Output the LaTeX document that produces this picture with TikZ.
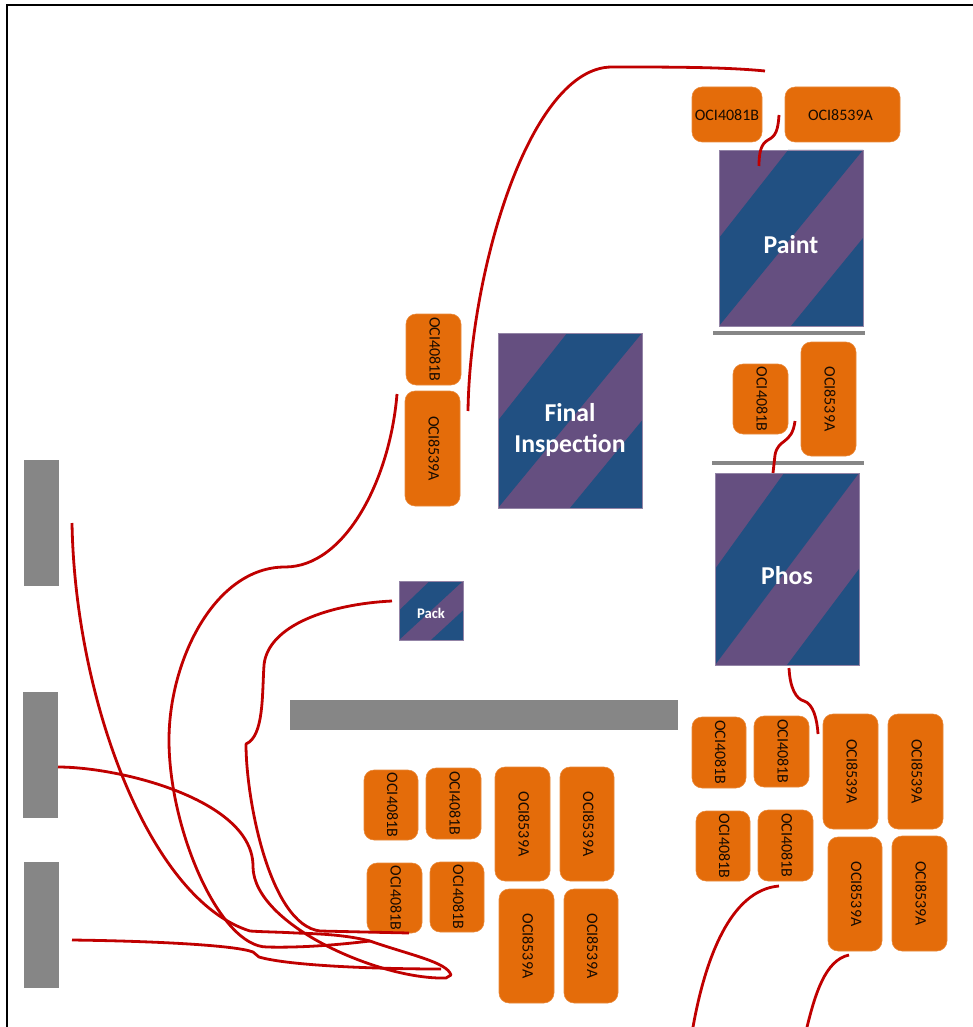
\documentclass[tikz,border=0pt]{standalone}
\usepackage{fontspec}
\setmainfont{Carlito}
\usetikzlibrary{calc}
\definecolor{bandpurple}{HTML}{654F80}
\definecolor{bandblue}{HTML}{215082}
\definecolor{chiporange}{HTML}{E46C0A}
\definecolor{bargray}{HTML}{868686}
\definecolor{inkred}{HTML}{C00000}
\tikzset{
  chip/.style={fill=chiporange,draw=chiporange!80!white,line width=0.4pt,rounded corners=7.5pt,inner sep=0pt,outer sep=0pt,text=black!90!chiporange,font=\fontsize{12}{14}\selectfont},
  bar/.style={fill=bargray,draw=none,inner sep=0pt,outer sep=0pt},
  ink/.style={draw=inkred,line width=2.1pt,line cap=butt,line join=round},
  procbox/.style={fill=bandpurple,draw=bandpurple!70!white,line width=0.5pt,inner sep=0pt,outer sep=0pt,text=white,align=center,
    path picture={
      \coordinate (pNW) at (path picture bounding box.north west);
      \coordinate (pNE) at (path picture bounding box.north east);
      \coordinate (pSW) at (path picture bounding box.south west);
      \coordinate (pSE) at (path picture bounding box.south east);
      \fill[bandblue] ($(pNW)!0.48!(pNE)$) -- (pNE) -- (pSW) -- ($(pNW)!0.5!(pSW)$) -- cycle;
      \fill[bandblue] ($(pNE)!0.5!(pSE)$) -- (pSE) -- ($(pSW)!0.5!(pSE)$) -- cycle;
    }},
}
% name, x0, y0, x1, y1 (px), text
\newcommand{\hchip}[6]{\node[chip,minimum width=#4*0.75pt-#2*0.75pt,minimum height=#5*0.75pt-#3*0.75pt] (#1) at ({(#2+#4)/2},{(#3+#5)/2}) {\raisebox{-0.7pt}[\height][\depth]{#6}};}
\newcommand{\vchip}[6]{\node[chip,rotate=-90,minimum width=#5*0.75pt-#3*0.75pt,minimum height=#4*0.75pt-#2*0.75pt] (#1) at ({(#2+#4)/2},{(#3+#5)/2}) {\raisebox{1.2pt}[\height][\depth]{#6}};}
\newcommand{\graybar}[5]{\node[bar,minimum width=#4*0.75pt-#2*0.75pt,minimum height=#5*0.75pt-#3*0.75pt] (#1) at ({(#2+#4)/2},{(#3+#5)/2}) {};}
% name, x0, y0, x1, y1, font size, text lift, text
\newcommand{\proc}[8]{\node[procbox,font=\bfseries\fontsize{#6}{23.3}\selectfont,minimum width=#4*0.75pt-#2*0.75pt,minimum height=#5*0.75pt-#3*0.75pt] (#1) at ({(#2+#4)/2},{(#3+#5)/2}) {\raisebox{#7}[\height][\depth]{\begin{tabular}{@{}c@{}}#8\end{tabular}}};}
\begin{document}
\begin{tikzpicture}[x=0.75pt,y=-0.75pt]
\useasboundingbox (0,0) rectangle (973,1027);
\fill[white] (0,0) rectangle (973,1027);
\coordinate (frameA) at (973,5);
\coordinate (frameB) at (7,5);
\coordinate (frameC) at (7,1027);
\draw[black,line width=0.9pt] (frameA) -- (frameB) -- (frameC);

% process boxes
\proc{paint}{719}{150}{863}{326}{19.3}{-7pt}{Paint}
\proc{final}{498}{333}{642}{508}{19.3}{-8pt}{Final\\Inspection}
\proc{phos}{715}{473}{859}{665}{19.3}{-6.7pt}{Phos}
\proc{pack}{399}{581}{463}{640}{11}{-1.5pt}{Pack}

% gray bars
\graybar{barA}{24}{460}{59}{586}
\graybar{barB}{23}{692}{58}{818}
\graybar{barC}{24}{862}{59}{988}
\graybar{barWide}{290}{700}{678}{730}
\graybar{barPaint}{713}{331}{865}{335}
\graybar{barPhos}{712}{461}{864}{465}

% chips
\hchip{t1}{692}{87}{762}{142}{OCI4081B}
\hchip{t2}{785}{87}{900}{142}{\kern-3ptOCI8539A}
\vchip{m1}{733}{364}{788}{434}{OCI4081B}
\vchip{m2}{801}{342}{856}{456}{OCI8539A}
\vchip{l1}{406}{314}{461}{385}{OCI4081B}
\vchip{l2}{405}{391}{460}{506}{OCI8539A}
\vchip{a1}{692}{717}{746}{788}{OCI4081B}
\vchip{a2}{754}{716}{809}{787}{OCI4081B}
\vchip{a3}{823}{714}{878}{829}{OCI8539A}
\vchip{a4}{888}{714}{943}{829}{OCI8539A}
\vchip{b1}{696}{811}{750}{881}{OCI4081B}
\vchip{b2}{758}{810}{813}{881}{OCI4081B}
\vchip{b3}{828}{837}{882}{951}{OCI8539A}
\vchip{b4}{892}{836}{947}{951}{OCI8539A}
\vchip{c1}{364}{770}{418}{840}{OCI4081B}
\vchip{c2}{426}{768}{481}{839}{OCI4081B}
\vchip{c3}{495}{767}{550}{881}{OCI8539A}
\vchip{c4}{560}{767}{614}{881}{OCI8539A}
\vchip{d1}{367}{863}{422}{933}{OCI4081B}
\vchip{d2}{430}{862}{484}{932}{OCI4081B}
\vchip{d3}{499}{889}{554}{1003}{OCI8539A}
\vchip{d4}{564}{889}{618}{1003}{OCI8539A}

% free ends of the hand-drawn strokes
\coordinate (s1a) at (468,411);
\coordinate (s1b) at (612,67);
\coordinate (s1c) at (765,71);
\coordinate (s2a) at (779,115);
\coordinate (s2b) at (768,140);
\coordinate (s2c) at (759,166);
\coordinate (s3a) at (795,421);
\coordinate (s3b) at (775,455);
\coordinate (s3c) at (773,473);
\coordinate (s4a) at (789,668);
\coordinate (s4b) at (804,701);
\coordinate (s4c) at (818,734);
\coordinate (s5a) at (397,394);
\coordinate (s5b) at (285,567);
\coordinate (s5c) at (169,740);
\coordinate (s5d) at (267,947);
\coordinate (s5e) at (370,941);
\coordinate (s6a) at (392,601);
\coordinate (s6b) at (264,665);
\coordinate (s6c) at (246,744);
\coordinate (s6d) at (320,931);
\coordinate (s6e) at (409,933);
\coordinate (s7a) at (72,523);
\coordinate (s7b) at (250,931);
\coordinate (s7c) at (296,933);
\coordinate (s7d) at (370,941);
\coordinate (s7e) at (451,975);
\coordinate (s7f) at (446,978);
\coordinate (s7g) at (253,867);
\coordinate (s7h) at (58,767);
\coordinate (s8a) at (72,940);
\coordinate (s8b) at (253,952);
\coordinate (s8c) at (259,957);
\coordinate (s8d) at (441,969);
\coordinate (s9a) at (779,886);
\coordinate (s9b) at (693,1027);
\coordinate (s10a) at (849,955);
\coordinate (s10b) at (807,1027);

\draw[ink] (s1a) .. controls (470,270) and (530,67) .. (s1b) .. controls (670,67) and (725,67) .. (s1c);
\draw[ink] (s2a) .. controls (778,130) and (776,136) .. (s2b) .. controls (761,144) and (759,152) .. (s2c);
\draw[ink] (s3a) .. controls (792,445) and (778,438) .. (s3b) -- (s3c);
\draw[ink] (s4a) .. controls (790,688) and (796,699) .. (s4b) .. controls (813,704) and (817,718) .. (s4c);
\draw[ink] (s5a) .. controls (390,480) and (345,567) .. (s5b) .. controls (215,567) and (169,660) .. (s5c)
  .. controls (169,830) and (220,947) .. (s5d) .. controls (305,948) and (345,944) .. (s5e);
\draw[ink] (s6a) .. controls (330,604) and (268,625) .. (s6b) .. controls (262,695) and (264,736) .. (s6c)
  .. controls (246,800) and (270,925) .. (s6d) -- (s6e);
\draw[ink] (s7a) .. controls (75,700) and (150,900) .. (s7b) .. controls (265,932) and (280,932) .. (s7c)
  .. controls (330,934) and (350,936) .. (s7d) .. controls (410,955) and (447,962) .. (s7e)
  -- (s7f) .. controls (380,980) and (254,925) .. (s7g) .. controls (254,800) and (120,767) .. (s7h);
\draw[ink] (s8a) .. controls (150,941) and (235,945) .. (s8b) .. controls (256,954) and (256,955) .. (s8c)
  .. controls (290,966) and (380,969) .. (s8d);
\draw[ink] (s9a) .. controls (730,890) and (705,960) .. (s9b);
\draw[ink] (s10a) .. controls (825,960) and (815,995) .. (s10b);
\end{tikzpicture}
\end{document}
